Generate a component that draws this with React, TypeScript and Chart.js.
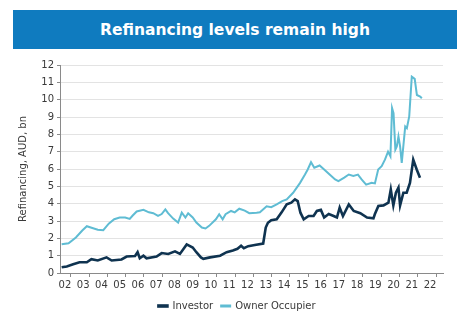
import React, { useEffect, useRef } from "react";
import { Chart, registerables } from "chart.js";

Chart.register(...registerables);

const titleText = "Refinancing levels remain high";
const yAxisTitle = "Refinancing, AUD, bn";
const seriesNames = ["Investor", "Owner Occupier"];
const yearTicks = [2002, 2003, 2004, 2005, 2006, 2007, 2008, 2009, 2010, 2011, 2012, 2013, 2014, 2015, 2016, 2017, 2018, 2019, 2020, 2021, 2022];

const investorYears = [
  2001.82, 2002.1, 2002.45, 2002.8, 2003.2, 2003.45, 2003.8, 2004.28, 2004.56, 2005.1,
  2005.38, 2005.84, 2005.98, 2006.1, 2006.3, 2006.47, 2007.02, 2007.3, 2007.66, 2008.03,
  2008.3, 2008.67, 2009.0, 2009.2, 2009.45, 2009.58, 2009.95, 2010.5, 2010.86, 2011.2,
  2011.45, 2011.65, 2011.8, 2012.04, 2012.4, 2012.86, 2013.0, 2013.12, 2013.3, 2013.6,
  2013.87, 2014.15, 2014.4, 2014.6, 2014.75, 2014.9, 2015.08, 2015.35, 2015.62, 2015.8,
  2016.02, 2016.2, 2016.45, 2016.72, 2016.9, 2017.05, 2017.23, 2017.55, 2017.82, 2018.18,
  2018.55, 2018.9, 2018.98, 2019.17, 2019.45, 2019.72, 2019.85, 2019.99, 2020.13, 2020.27,
  2020.36, 2020.54, 2020.72, 2020.9, 2021.08, 2021.27, 2021.45,
];
const investorValues = [
  0.33, 0.38, 0.5, 0.62, 0.62, 0.8, 0.72, 0.9, 0.72, 0.78,
  0.95, 0.98, 1.2, 0.85, 1.0, 0.85, 0.95, 1.15, 1.1, 1.25,
  1.1, 1.65, 1.47, 1.2, 0.9, 0.82, 0.9, 1.0, 1.2, 1.3,
  1.4, 1.57, 1.43, 1.55, 1.62, 1.7, 2.62, 2.9, 3.05, 3.1,
  3.5, 3.96, 4.06, 4.25, 4.15, 3.48, 3.1, 3.29, 3.29, 3.58,
  3.64, 3.2, 3.4, 3.29, 3.2, 3.77, 3.29, 3.96, 3.58, 3.45,
  3.2, 3.15, 3.4, 3.87, 3.9, 4.06, 4.82, 3.9, 4.63, 4.92,
  3.9, 4.63, 4.63, 5.2, 6.54, 5.97, 5.49,
];

const ownerYears = [
  2001.82, 2002.2, 2002.6, 2002.95, 2003.2, 2003.5, 2003.8, 2004.1, 2004.4, 2004.7,
  2005.0, 2005.3, 2005.55, 2005.7, 2005.93, 2006.3, 2006.6, 2006.84, 2007.1, 2007.3,
  2007.5, 2007.65, 2007.93, 2008.2, 2008.4, 2008.6, 2008.75, 2009.0, 2009.2, 2009.5,
  2009.7, 2009.9, 2010.27, 2010.45, 2010.64, 2010.8, 2011.1, 2011.3, 2011.55, 2011.85,
  2012.1, 2012.5, 2012.68, 2013.05, 2013.3, 2013.6, 2013.9, 2014.15, 2014.5, 2014.88,
  2015.15, 2015.3, 2015.48, 2015.66, 2015.95, 2016.2, 2016.5, 2016.8, 2016.98, 2017.3,
  2017.55, 2017.8, 2018.05, 2018.25, 2018.5, 2018.8, 2018.98, 2019.16, 2019.35, 2019.53,
  2019.7, 2019.83, 2019.92, 2020.0, 2020.1, 2020.18, 2020.27, 2020.36, 2020.45, 2020.64,
  2020.73, 2020.86, 2021.0, 2021.16, 2021.28, 2021.46, 2021.55,
];
const ownerValues = [
  1.66, 1.72, 2.05, 2.45, 2.7, 2.6, 2.5, 2.47, 2.85, 3.1,
  3.2, 3.2, 3.12, 3.3, 3.55, 3.65, 3.5, 3.45, 3.3, 3.4,
  3.67, 3.45, 3.14, 2.91, 3.48, 3.2, 3.45, 3.2, 2.91, 2.62,
  2.57, 2.72, 3.1, 3.39, 3.1, 3.39, 3.58, 3.5, 3.71, 3.6,
  3.45, 3.48, 3.5, 3.85, 3.8, 3.96, 4.15, 4.25, 4.63, 5.2,
  5.68, 5.97, 6.39, 6.07, 6.2, 5.97, 5.68, 5.4, 5.3, 5.5,
  5.68, 5.6, 5.68, 5.4, 5.1, 5.2, 5.17, 5.97, 6.16, 6.54,
  7.0, 6.73, 9.51, 9.22, 7.12, 7.3, 7.88, 7.3, 6.35, 8.45,
  8.35, 9.03, 11.33, 11.2, 10.27, 10.18, 10.08,
];

const FONT = "'DejaVu Sans', Verdana, sans-serif";
const TEXT = "#3a3a3a";
const AXIS = "#8a8a8a";

const xTickMarks = {
  id: "xTickMarks",
  afterDraw(chart: any) {
    const x = chart.scales.x;
    const ctx = chart.ctx;
    ctx.save();
    ctx.strokeStyle = AXIS;
    ctx.lineWidth = 1;
    yearTicks.forEach((yr) => {
      const px = Math.round(x.getPixelForValue(yr + 0.3)) + 0.5;
      if (px > x.right + 1) return;
      ctx.beginPath();
      ctx.moveTo(px, x.top);
      ctx.lineTo(px, x.top + 4);
      ctx.stroke();
    });
    ctx.restore();
  },
};

export default function App() {
  const ref = useRef<HTMLCanvasElement>(null);
  useEffect(() => {
    document.body.style.margin = "0";
    const toPts = (xs: number[], ys: number[]) => xs.map((x, i) => ({ x, y: ys[i] }));
    const chart = new Chart(ref.current!, {
      type: "line",
      data: {
        datasets: [
          {
            label: seriesNames[0],
            data: toPts(investorYears, investorValues),
            borderColor: "#0f3350",
            backgroundColor: "#0f3350",
            borderWidth: 2.6,
            pointRadius: 0,
            tension: 0,
          },
          {
            label: seriesNames[1],
            data: toPts(ownerYears, ownerValues),
            borderColor: "#5fbcd3",
            backgroundColor: "#5fbcd3",
            borderWidth: 2,
            pointRadius: 0,
            tension: 0,
          },
        ],
      },
      options: {
        animation: false,
        responsive: false,
        maintainAspectRatio: false,
        layout: { padding: { left: 0, right: 0, top: 65, bottom: 4 } },
        plugins: {
          title: { display: false },
          tooltip: { enabled: false },
          legend: {
            position: "bottom",
            labels: {
              font: { family: FONT, size: 10 },
              color: TEXT,
              boxWidth: 9,
              boxHeight: 1,
              padding: 8,
            },
          },
        },
        scales: {
          x: {
            type: "linear",
            min: 2001.73,
            max: 2022.71,
            afterBuildTicks: (s: any) => {
              s.ticks = yearTicks.map((v) => ({ value: v }));
            },
            afterFit: (s: any) => {
              s.height = 20;
            },
            ticks: {
              autoSkip: false,
              maxRotation: 0,
              padding: 2,
              font: { family: FONT, size: 10 },
              color: TEXT,
              callback: (v: any) => String(Number(v) % 100).padStart(2, "0"),
            },
            grid: { display: true, drawOnChartArea: false, drawTicks: true, tickLength: 4, color: "transparent", tickColor: "transparent" },
            border: { display: true, color: AXIS, width: 1 },
          },
          y: {
            min: 0,
            max: 12,
            afterFit: (s: any) => {
              s.width = 60;
            },
            ticks: {
              stepSize: 1,
              padding: 3,
              font: { family: FONT, size: 10 },
              color: TEXT,
            },
            title: {
              display: true,
              text: yAxisTitle,
              font: { family: FONT, size: 10 },
              color: TEXT,
              padding: { top: 17, bottom: 0 },
            },
            grid: { color: "#e3e3e3", tickColor: AXIS, tickLength: 3, drawTicks: true },
            border: { display: true, color: AXIS, width: 1 },
          },
          yRight: {
            type: "linear",
            position: "right",
            min: 0,
            max: 12,
            afterFit: (s: any) => {
              s.width = 31;
            },
            ticks: { display: false },
            grid: { display: false },
            border: { display: false },
          },
        },
      },
      plugins: [xTickMarks],
    });
    return () => chart.destroy();
  }, []);

  return (
    <div style={{ position: "relative", width: 474, height: 325, background: "#fff" }}>
      <canvas ref={ref} width={474} height={325} style={{ position: "absolute", left: 0, top: 0 }} />
      <div
        style={{
          position: "absolute",
          left: 13,
          top: 10,
          width: 444,
          height: 39,
          background: "#0f7bbf",
          color: "#fff",
          fontFamily: FONT,
          fontWeight: "bold",
          fontSize: 15.5,
          display: "flex",
          alignItems: "center",
          justifyContent: "center",
        }}
      >
        {titleText}
      </div>
    </div>
  );
}
